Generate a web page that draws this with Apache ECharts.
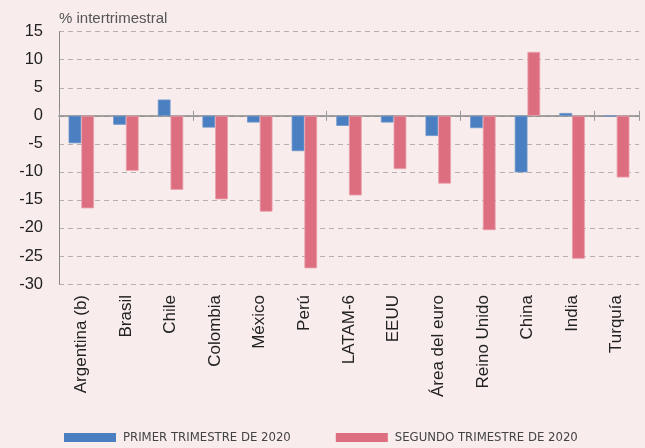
<!DOCTYPE html>
<html>
<head>
<meta charset="utf-8">
<script src="https://cdn.jsdelivr.net/npm/echarts@6/dist/echarts.min.js"></script>
<style>
html,body{margin:0;padding:0;background:#f8ecec;}
#c{width:645px;height:448px;}
</style>
</head>
<body>
<div id="c"></div>
<script>
var categories = ['Argentina (b)', 'Brasil', 'Chile', 'Colombia', 'México', 'Perú', 'LATAM-6', 'EEUU', 'Área del euro', 'Reino Unido', 'China', 'India', 'Turquía'];
var primerTrimestre = [-4.9, -1.6, 2.9, -2.1, -1.2, -6.3, -1.8, -1.2, -3.6, -2.2, -10.1, 0.5, -0.1];
var segundoTrimestre = [-16.5, -9.8, -13.2, -14.9, -17.1, -27.2, -14.2, -9.5, -12.1, -20.4, 11.4, -25.5, -11.0];
var seriesNames = ['PRIMER TRIMESTRE DE 2020', 'SEGUNDO TRIMESTRE DE 2020'];
var yAxisTitle = '% intertrimestral';
var yMin = -30, yMax = 15, yStep = 5;

var gridTop = 31.7, gridBottom = 164, H = 448;
var gridH = H - gridTop - gridBottom;
var zeroOffset = -gridH * (0 - yMin) / (yMax - yMin);

var chart = echarts.init(document.getElementById('c'));
chart.setOption({
  backgroundColor: '#f8ecec',
  animation: false,
  textStyle: {fontFamily: 'Liberation Sans, Arial, sans-serif'},
  title: {
    text: yAxisTitle,
    left: 54, top: 6,
    textStyle: {fontSize: 15, fontWeight: 'normal', color: '#555', fontFamily: 'Liberation Sans'}
  },
  legend: {
    left: 59, top: 426,
    width: 600,
    itemWidth: 52, itemHeight: 9, itemGap: 45,
    icon: 'rect',
    itemStyle: {borderWidth: 0},
    textStyle: {fontSize: 13, color: '#444', fontFamily: 'DejaVu Sans Condensed', padding: [0, 0, 0, 2]},
    data: seriesNames
  },
  grid: {left: 59, right: 6, top: gridTop, bottom: gridBottom, containLabel: false, outerBoundsMode: 'none'},
  xAxis: [{
    type: 'category',
    data: categories,
    position: 'bottom',
    axisLine: {onZero: true, lineStyle: {color: '#888', width: 1.5}},
    axisTick: {show: true, length: 5, lineStyle: {color: '#999'}},
    axisLabel: {show: false}
  }, {
    type: 'category',
    data: categories,
    position: 'bottom',
    offset: zeroOffset,
    axisLine: {show: false, onZero: false},
    axisTick: {show: true, inside: true, length: 5, lineStyle: {color: '#999'}},
    axisLabel: {show: false}
  }, {
    type: 'category',
    data: categories,
    position: 'bottom',
    offset: 0,
    axisLine: {show: false, onZero: false},
    axisTick: {show: false},
    axisLabel: {rotate: 90, margin: 11, fontSize: 17, color: '#222', interval: 0}
  }],
  yAxis: {
    type: 'value',
    min: yMin, max: yMax, interval: yStep,
    axisLine: {show: true, lineStyle: {color: '#888', width: 1}},
    axisTick: {show: false},
    axisLabel: {fontSize: 16.5, color: '#222', margin: 16},
    splitLine: {show: true, lineStyle: {type: [5, 4], color: '#b4b0b0', width: 1}}
  },
  series: [{
    name: seriesNames[0],
    type: 'bar',
    data: primerTrimestre,
    barGap: '0%',
    barCategoryGap: '43%',
    itemStyle: {color: '#4a7fc1', borderColor: '#6f97cc', borderWidth: 0.8}
  }, {
    name: seriesNames[1],
    type: 'bar',
    data: segundoTrimestre,
    barGap: '0%',
    barCategoryGap: '43%',
    itemStyle: {color: '#dd6e80', borderColor: '#eaa0ab', borderWidth: 0.8}
  }]
});
</script>
</body>
</html>
